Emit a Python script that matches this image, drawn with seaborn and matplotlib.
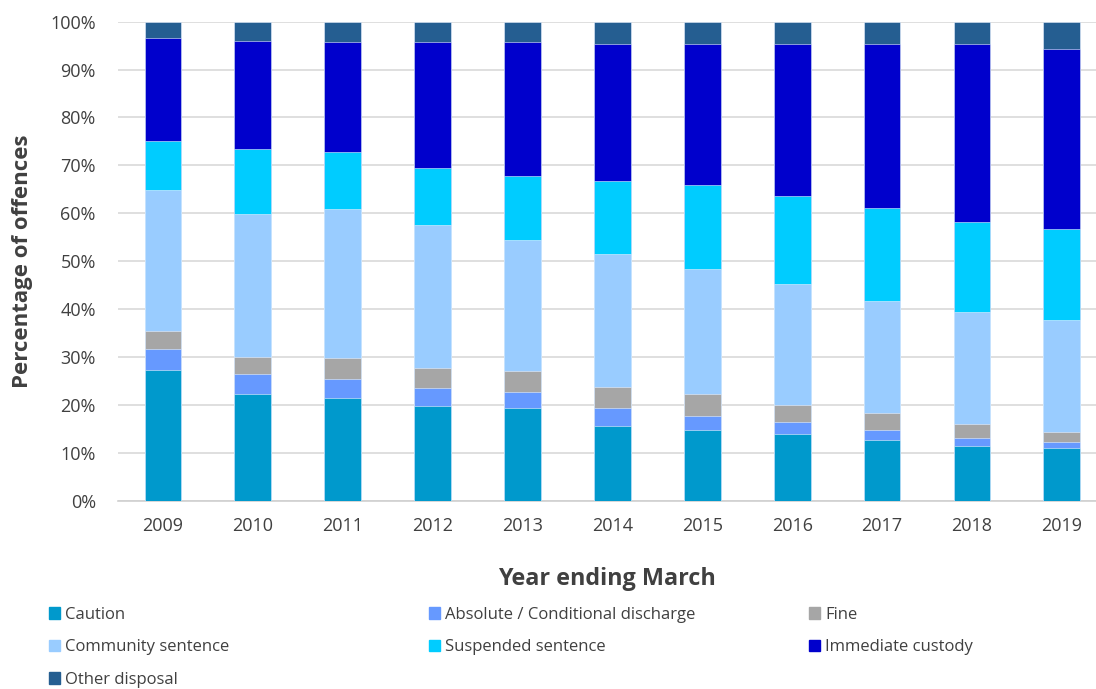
import matplotlib
matplotlib.use("Agg")
import matplotlib.pyplot as plt
import matplotlib.patches as mpatches
import seaborn as sns
import pandas as pd
import numpy as np

# ---- data (percent of offences) ----
years = ['2009', '2010', '2011', '2012', '2013', '2014', '2015', '2016', '2017', '2018', '2019']
caution   = [27.3, 22.3, 21.4, 19.7, 19.4, 15.6, 14.7, 13.8, 12.7, 11.4, 11.0]
discharge = [4.3, 4.1, 4.0, 3.7, 3.3, 3.8, 3.0, 2.6, 2.0, 1.7, 1.3]
fine      = [3.8, 3.6, 4.3, 4.3, 4.3, 4.3, 4.5, 3.5, 3.6, 2.9, 2.1]
community = [29.5, 29.8, 31.1, 29.8, 27.4, 27.8, 26.2, 25.3, 23.4, 23.4, 23.4]
suspended = [10.2, 13.6, 12.0, 11.9, 13.4, 15.3, 17.4, 18.3, 19.4, 18.7, 19.0]
custody   = [21.6, 22.6, 23.0, 26.4, 28.0, 28.5, 29.5, 31.8, 34.2, 37.2, 37.4]
other     = [3.3, 4.0, 4.2, 4.2, 4.2, 4.7, 4.7, 4.7, 4.7, 4.7, 5.8]

series_names = ['Caution', 'Absolute / Conditional discharge', 'Fine', 'Community sentence',
                'Suspended sentence', 'Immediate custody', 'Other disposal']
series_vals = [caution, discharge, fine, community, suspended, custody, other]
colors = ['#0099CC', '#6699FF', '#A6A6A6', '#99CCFF', '#00CCFF', '#0000CC', '#255E91']

# wide table with cumulative tops, so bars can be overlaid from the top down
df = pd.DataFrame({'Year': years})
running = np.zeros(len(years))
for name, vals in zip(series_names, series_vals):
    running = running + np.array(vals)
    df[name] = running

# ---- style ----
sns.set_theme(style="white")
plt.rcParams['font.family'] = ['Open Sans', 'DejaVu Sans']
text_col = '#404040'

fig = plt.figure(figsize=(10.96, 6.89), dpi=100)
ax = fig.add_axes([118 / 1096, 1 - 500.5 / 689, (1096 - 118) / 1096, (500.5 - 21.7) / 689])

for name, col in reversed(list(zip(series_names, colors))):
    sns.barplot(data=df, x='Year', y=name, order=years, color=col, saturation=1,
                width=0.41, errorbar=None, ax=ax, zorder=3,
                edgecolor='#E6F0FF', linewidth=0.4)

ax.set_xlim(-0.5, 10.38)
ax.set_ylim(0, 100)
ax.set_yticks(np.arange(0, 101, 10))
ax.set_yticklabels([f'{t}%' for t in range(0, 101, 10)])
ax.yaxis.grid(True, color='#D9D9D9', lw=1.2, zorder=0)
ax.set_axisbelow(True)
for s in ['left', 'right', 'top']:
    ax.spines[s].set_visible(False)
ax.spines['bottom'].set_color('#D0D0D0')
ax.spines['bottom'].set_linewidth(1.2)
ax.tick_params(axis='both', length=0, labelsize=13, colors=text_col)
ax.tick_params(axis='y', pad=16)
ax.tick_params(axis='x', pad=12)

ax.set_xlabel('Year ending March', fontsize=16.8, fontweight='bold', color=text_col, labelpad=23)
ax.set_ylabel('Percentage of offences', fontsize=16, fontweight='bold', color=text_col, labelpad=12)

# ---- legend: three columns placed like the original ----
handles = [mpatches.Patch(color=c, label=n) for n, c in zip(series_names, colors)]
columns = [[0, 3, 6], [1, 4], [2, 5]]
col_x = [42 / 1096, 422 / 1096, 802 / 1096]
for cx, idx in zip(col_x, columns):
    leg = fig.legend(handles=[handles[i] for i in idx], loc='upper left',
                     bbox_to_anchor=(cx, 1 - 600 / 689), frameon=False, fontsize=12,
                     handlelength=0.7, handleheight=0.7, handletextpad=0.3,
                     labelspacing=1.0, borderaxespad=0)
    for t in leg.get_texts():
        t.set_color(text_col)

fig.savefig('out.png', dpi=100)
